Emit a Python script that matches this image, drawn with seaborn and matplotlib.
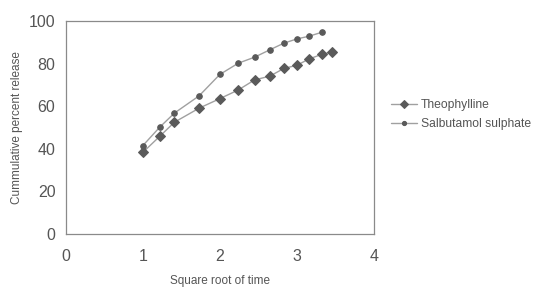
import matplotlib
matplotlib.use("Agg")
import matplotlib.pyplot as plt
import seaborn as sns
import pandas as pd

sqrt_time_theo = [1.0, 1.22, 1.41, 1.73, 2.0, 2.24, 2.45, 2.65, 2.83, 3.0, 3.16, 3.32, 3.46]
theophylline = [38.2, 45.8, 52.4, 59.0, 63.5, 67.6, 72.3, 74.1, 77.7, 79.2, 82.2, 84.3, 85.5]
sqrt_time_salb = [1.0, 1.22, 1.41, 1.73, 2.0, 2.24, 2.45, 2.65, 2.83, 3.0, 3.16, 3.32]
salbutamol = [41.4, 50.1, 56.7, 64.8, 74.9, 80.2, 83.0, 86.5, 89.6, 91.6, 92.9, 94.7]
series_names = ["Theophylline", "Salbutamol sulphate"]
x_ticks = [0, 1, 2, 3, 4]
y_ticks = [0, 20, 40, 60, 80, 100]

df_theo = pd.DataFrame({"x": sqrt_time_theo, "y": theophylline})
df_salb = pd.DataFrame({"x": sqrt_time_salb, "y": salbutamol})

sns.set_style("white")
plt.rcParams["font.family"] = ["Liberation Sans", "DejaVu Sans"]

txt = "#555555"
fig = plt.figure(figsize=(5.49, 2.93), dpi=100)
ax = fig.add_axes([0.120, 0.203, 0.561, 0.725])

sns.lineplot(data=df_theo, x="x", y="y", ax=ax, color="#a0a0a0", lw=1.0,
             marker="D", markersize=5, markerfacecolor="#5a5a5a",
             markeredgecolor="#5a5a5a", label=series_names[0])
sns.lineplot(data=df_salb, x="x", y="y", ax=ax, color="#a0a0a0", lw=1.0,
             marker="o", markersize=4, markerfacecolor="#5a5a5a",
             markeredgecolor="#5a5a5a", label=series_names[1])

ax.set_xlim(0, 4)
ax.set_ylim(0, 100)
ax.set_xticks(x_ticks)
ax.set_yticks(y_ticks)
ax.tick_params(axis="both", direction="out", length=4, width=0.8,
               colors="#888888", labelcolor=txt, labelsize=11.5)
ax.tick_params(axis="x", pad=7)
for s in ax.spines.values():
    s.set_color("#8a8a8a")
    s.set_linewidth(0.9)
    s.set_visible(True)

ax.set_xlabel("Square root of time", color=txt, fontsize=8.5, labelpad=8)
ax.set_ylabel("Cummulative percent release", color=txt, fontsize=8.5, labelpad=4)

leg = ax.legend(loc="center left", bbox_to_anchor=(1.02, 0.56), frameon=False,
                fontsize=8.7, handlelength=2.2, handletextpad=0.3, labelspacing=0.6,
                markerscale=0.75)
for t in leg.get_texts():
    t.set_color(txt)

fig.savefig("out.png", dpi=100, facecolor="white")
